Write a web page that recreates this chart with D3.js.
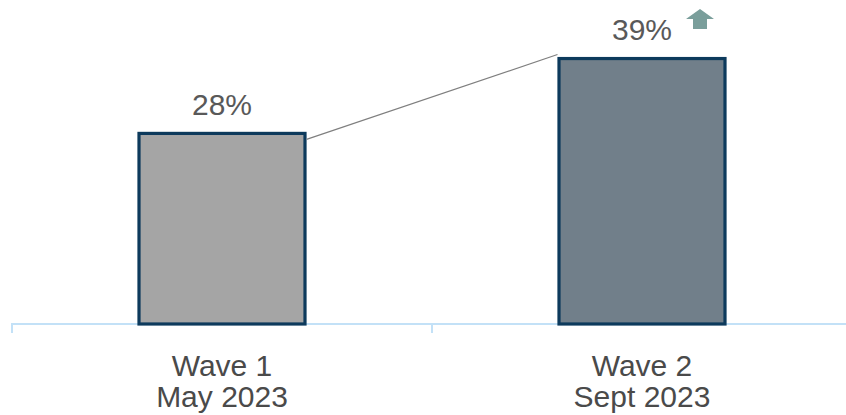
<!DOCTYPE html>
<html>
<head>
<meta charset="utf-8">
<script src="https://cdn.jsdelivr.net/npm/d3@7"></script>
<style>
  html, body { margin: 0; padding: 0; background: #ffffff; }
  svg { display: block; }
</style>
</head>
<body>
<svg id="chart" width="846" height="415"></svg>
<script>
const categories = ["Wave 1|May 2023", "Wave 2|Sept 2023"];
const values = [28, 39];
const valueLabels = ["28%", "39%"];
const barColors = ["#a5a5a5", "#717f8a"];

const svg = d3.select("#chart");
const x = d3.scaleBand().domain(categories).range([12, 852]).paddingInner(0).paddingOuter(0);
const y = d3.scaleLinear().domain([0, 47.6]).range([324, 0]);
const barW = 166;

// axis
const axis = d3.axisBottom(x).tickSize(0).tickFormat("");
const ag = svg.append("g").attr("transform", "translate(0,324)").call(axis);
ag.select(".domain").remove();
svg.append("line").attr("x1", 11).attr("x2", 846).attr("y1", 324).attr("y2", 324)
  .attr("stroke", "#c3e1f7").attr("stroke-width", 2);
const bounds = [x.range()[0], x.range()[0] + x.step()];
svg.selectAll("line.tick-b").data(bounds).join("line")
  .attr("x1", d => d).attr("x2", d => d).attr("y1", 324).attr("y2", 333)
  .attr("stroke", "#c3e1f7").attr("stroke-width", 2);

// bars
const data = categories.map((c, i) => ({c, v: values[i], label: valueLabels[i], color: barColors[i]}));
svg.selectAll("rect.bar").data(data).join("rect")
  .attr("class", "bar")
  .attr("x", d => x(d.c) + x.bandwidth() / 2 - barW / 2)
  .attr("width", barW)
  .attr("y", d => y(d.v))
  .attr("height", d => y(0) - y(d.v))
  .attr("fill", d => d.color)
  .attr("stroke", "#0d3a5c")
  .attr("stroke-width", 3.2);

// connector
const b1r = x(categories[0]) + x.bandwidth() / 2 + barW / 2 + 1.5;
const b2l = x(categories[1]) + x.bandwidth() / 2 - barW / 2 - 1.5;
svg.append("line")
  .attr("x1", b1r).attr("y1", y(values[0]) + 6)
  .attr("x2", b2l).attr("y2", y(values[1]) - 4)
  .attr("stroke", "#7f7f7f").attr("stroke-width", 1.2);

// value labels
svg.selectAll("text.val").data(data).join("text")
  .attr("class", "val")
  .attr("x", d => x(d.c) + x.bandwidth() / 2)
  .attr("y", d => y(d.v) - 18.5)
  .attr("text-anchor", "middle")
  .attr("font-family", "Liberation Sans, Arial, sans-serif")
  .attr("font-size", 30)
  .attr("fill", "#595959")
  .text(d => d.label);

// up arrow next to 39%
const ax = x(categories[1]) + x.bandwidth() / 2 + 58;
svg.append("path")
  .attr("d", `M${ax},9 L${ax+14},19 L${ax+7},19 L${ax+7},29 L${ax-7},29 L${ax-7},19 L${ax-14},19 Z`)
  .attr("fill", "#7a9e9b");

// category labels
const cat = svg.selectAll("text.cat").data(categories).join("text")
  .attr("class", "cat")
  .attr("text-anchor", "middle")
  .attr("font-family", "Liberation Sans, Arial, sans-serif")
  .attr("font-size", 30)
  .attr("fill", "#4a4a4a");
cat.each(function(d) {
  const parts = d.split("|");
  const t = d3.select(this);
  parts.forEach((p, i) => {
    t.append("tspan")
      .attr("x", x(d) + x.bandwidth() / 2)
      .attr("y", 376 + i * 30.5)
      .text(p);
  });
});
</script>
</body>
</html>
